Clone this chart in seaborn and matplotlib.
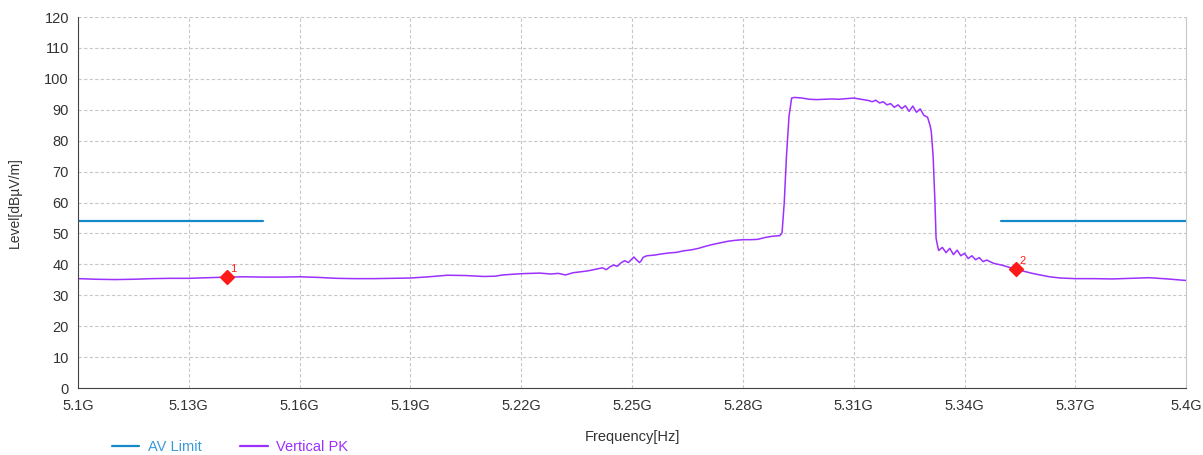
import seaborn as sns
import matplotlib.pyplot as plt
import numpy as np
import pandas as pd

# trace (frequency in GHz, level in dBuV/m)
freq = [5.100, 5.105, 5.110, 5.115, 5.120, 5.125, 5.130, 5.135, 5.1403, 5.145,
        5.150, 5.155, 5.160, 5.165, 5.170, 5.175, 5.180, 5.185, 5.190, 5.195,
        5.200, 5.205, 5.210, 5.213, 5.215, 5.220, 5.225, 5.228, 5.230, 5.232,
        5.234, 5.236, 5.238, 5.240, 5.242, 5.243, 5.244, 5.245, 5.246, 5.247,
        5.248, 5.249, 5.2505, 5.2512, 5.252, 5.2525, 5.253, 5.254, 5.256, 5.258,
        5.260, 5.262, 5.264, 5.266, 5.268, 5.270, 5.272, 5.274, 5.276, 5.278,
        5.280, 5.282, 5.284, 5.286, 5.288, 5.290, 5.2906, 5.2912, 5.2918, 5.2925,
        5.2932, 5.2940, 5.296, 5.298, 5.300, 5.302, 5.304, 5.306, 5.308, 5.310,
        5.312, 5.314, 5.315, 5.316, 5.317, 5.318, 5.319, 5.320, 5.321, 5.322,
        5.323, 5.324, 5.325, 5.326, 5.327, 5.328, 5.329, 5.330, 5.3307, 5.331,
        5.3315, 5.332, 5.3323, 5.3327, 5.333, 5.334, 5.335, 5.336, 5.337, 5.338,
        5.339, 5.340, 5.341, 5.342, 5.343, 5.344, 5.345, 5.346, 5.348, 5.350,
        5.352, 5.354, 5.356, 5.358, 5.360, 5.363, 5.366, 5.370, 5.375, 5.380,
        5.385, 5.390, 5.395, 5.400]
level = [35.4, 35.2, 35.1, 35.2, 35.4, 35.5, 35.5, 35.7, 35.9, 36.0,
         35.9, 35.9, 36.0, 35.8, 35.5, 35.4, 35.4, 35.5, 35.6, 36.0,
         36.5, 36.4, 36.1, 36.2, 36.6, 37.0, 37.2, 36.9, 37.1, 36.6,
         37.3, 37.6, 37.9, 38.4, 38.9, 38.3, 39.2, 39.8, 39.4, 40.5,
         41.2, 40.6, 42.4, 41.5, 40.6, 41.2, 42.3, 42.8, 43.0, 43.4,
         43.7, 43.9, 44.4, 44.7, 45.2, 45.9, 46.5, 47.0, 47.5, 47.8,
         48.0, 48.0, 48.1, 48.7, 49.1, 49.3, 50.2, 60.0, 75.0, 88.0,
         93.8, 94.0, 93.8, 93.4, 93.3, 93.4, 93.5, 93.4, 93.6, 93.8,
         93.4, 93.0, 92.6, 93.1, 92.2, 92.6, 91.6, 92.0, 90.8, 91.6,
         90.4, 91.3, 89.5, 91.2, 89.2, 90.3, 88.2, 87.6, 84.8, 83.0,
         75.0, 60.0, 48.5, 46.0, 44.5, 45.5, 43.8, 45.2, 43.2, 44.6,
         42.8, 43.6, 41.9, 42.8, 41.5, 42.2, 40.9, 41.4, 40.3, 39.8,
         39.1, 38.4, 37.8, 37.2, 36.7, 36.0, 35.6, 35.4, 35.4, 35.3,
         35.5, 35.7, 35.3, 34.8]

# AV limit segments
limit_lo_f = [5.10, 5.15]
limit_hi_f = [5.35, 5.40]
limit_val = [54, 54]

# markers
mark_f = [5.1403, 5.354]
mark_lv = [35.9, 38.4]
mark_lbl = ["1", "2"]

xticks = [5.10, 5.13, 5.16, 5.19, 5.22, 5.25, 5.28, 5.31, 5.34, 5.37, 5.40]
xticklabels = ["5.1G", "5.13G", "5.16G", "5.19G", "5.22G", "5.25G",
               "5.28G", "5.31G", "5.34G", "5.37G", "5.4G"]

sns.set_style("white")
plt.rcParams['font.family'] = ['Liberation Sans', 'DejaVu Sans']

blue = "#1689c8"
purple = "#9b30ff"

fig = plt.figure(figsize=(12.03, 4.55), dpi=100)
ax = fig.add_axes([0.0648, 0.147, 0.9212, 0.8156])

trace = pd.DataFrame({"f": freq, "lv": level})
sns.lineplot(data=trace, x="f", y="lv", ax=ax, color=purple, lw=1.1,
             sort=False, estimator=None)
sns.lineplot(x=limit_lo_f, y=limit_val, ax=ax, color=blue, lw=1.6)
sns.lineplot(x=limit_hi_f, y=limit_val, ax=ax, color=blue, lw=1.6)

ax.plot(mark_f, mark_lv, ls="none", marker="D", color="#ff1a1a", ms=7, zorder=5)
for f, lv, t in zip(mark_f, mark_lv, mark_lbl):
    ax.annotate(t, (f, lv), xytext=(2, 4), textcoords="offset points",
                color="#ff1a1a", fontsize=8)

ax.set_xlim(5.10, 5.40)
ax.set_ylim(0, 120)
ax.set_xticks(xticks)
ax.set_xticklabels(xticklabels)
ax.set_yticks(range(0, 121, 10))
ax.tick_params(axis="x", direction="in", length=4, labelsize=10.5, colors="#333333", pad=8)
ax.tick_params(axis="y", direction="out", length=3, labelsize=10.5, colors="#333333")
ax.grid(True, ls=(0, (3, 2)), color="#c8c8c8", lw=0.8)

ax.spines["top"].set_visible(False)
ax.spines["right"].set_color("#c8c8c8")
ax.spines["left"].set_color("#444444")
ax.spines["bottom"].set_color("#444444")

ax.set_xlabel("Frequency[Hz]", fontsize=10.5, color="#333333", labelpad=12)
ax.set_ylabel("Level[dBµV/m]", fontsize=10, color="#333333", labelpad=16)

handles = [plt.Line2D([], [], color=blue, lw=1.6),
           plt.Line2D([], [], color=purple, lw=1.6)]
leg = fig.legend(handles, ["AV Limit", "Vertical PK"], loc="lower left",
                 bbox_to_anchor=(0.082, -0.026), ncol=2, frameon=False,
                 fontsize=10.5, handlelength=1.9, handletextpad=0.6,
                 columnspacing=2.6)
for txt, c in zip(leg.get_texts(), ["#3a9ad9", purple]):
    txt.set_color(c)

fig.savefig("out.png", dpi=100)
